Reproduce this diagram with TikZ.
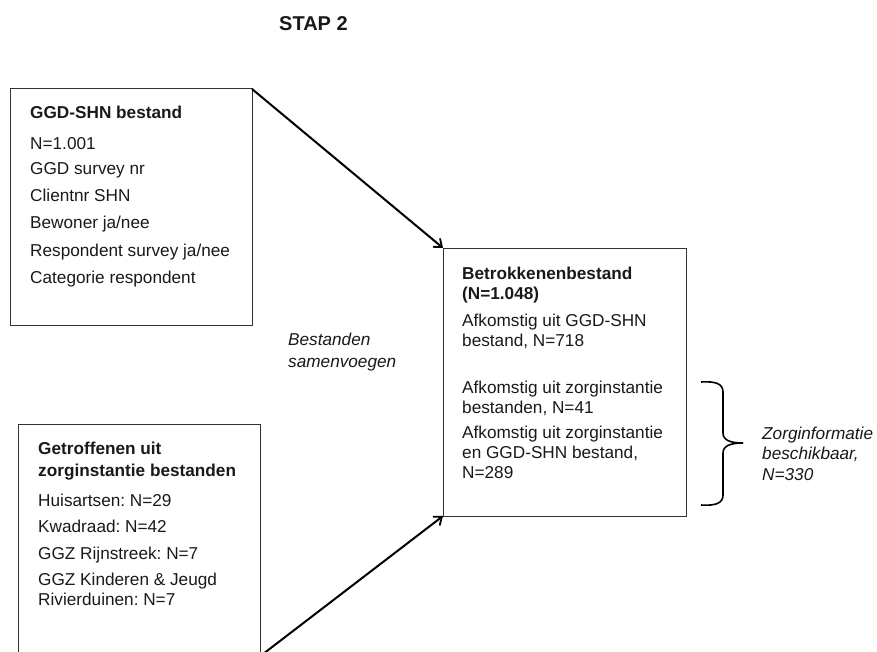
\documentclass[tikz,border=0pt]{standalone}
\usepackage{fontspec}
\setmainfont{Liberation Sans}
\frenchspacing
\usetikzlibrary{arrows.meta}
\begin{document}
\begin{tikzpicture}[x=1pt,y=-1pt,
  boxframe/.style={draw=black!80,line width=1pt},
  txt/.style={anchor=base west,inner sep=0pt,font=\fontsize{17.2}{20}\selectfont\frenchspacing,text=black!90},
  ttl/.style={txt,font=\fontsize{17.2}{20}\selectfont\bfseries\frenchspacing},
  itx/.style={txt,font=\fontsize{17.2}{20}\selectfont\itshape\frenchspacing},
  conn/.style={line width=2pt,-{Straight Barb[length=7pt,width=11pt,line width=1.8pt]}}]
\useasboundingbox (0,0) rectangle (877,652);
\clip (0,0) rectangle (877,652);
% title
\node[ttl,font=\fontsize{20}{24}\selectfont\bfseries] (stap) at (279,31) {STAP 2};
% box 1
\draw[boxframe] (10,89) rectangle (252,325);
\coordinate (b1ne) at (252,89);
\node[ttl] (t1) at (30,119) {GGD-SHN bestand};
\node[txt] (l11) at (30,150) {N=1.001};
\node[txt] (l12) at (30,175) {GGD survey nr};
\node[txt] (l13) at (30,202) {Clientnr SHN};
\node[txt] (l14) at (30,229) {Bewoner ja/nee};
\node[txt] (l15) at (30,256) {Respondent survey ja/nee};
\node[txt] (l16) at (30,283) {Categorie respondent};
% box 2
\draw[boxframe] (18,424) rectangle (260,680);
\coordinate (b2se) at (263,654);
\node[ttl] (t2a) at (38,454) {Getroffenen uit};
\node[ttl] (t2b) at (38,476) {zorginstantie bestanden};
\node[txt] (l21) at (38,506) {Huisartsen: N=29};
\node[txt] (l22) at (38,532) {Kwadraad: N=42};
\node[txt] (l23) at (38,559) {GGZ Rijnstreek: N=7};
\node[txt] (l24) at (38,585) {GGZ Kinderen \& Jeugd};
\node[txt] (l25) at (38,605) {Rivierduinen: N=7};
% box 3
\draw[boxframe] (443,248) rectangle (686,516);
\coordinate (b3nw) at (443,248);
\coordinate (b3sw) at (443,516);
\node[ttl] (t3a) at (462,279) {Betrokkenenbestand};
\node[ttl] (t3b) at (462,299) {(N=1.048)};
\node[txt] (l31) at (462,326) {Afkomstig uit GGD-SHN};
\node[txt] (l32) at (462,346) {bestand, N=718};
\node[txt] (l33) at (462,393) {Afkomstig uit zorginstantie};
\node[txt] (l34) at (462,413) {bestanden, N=41};
\node[txt] (l35) at (462,438) {Afkomstig uit zorginstantie};
\node[txt] (l36) at (462,458) {en GGD-SHN bestand,};
\node[txt] (l37) at (462,478) {N=289};
% connectors
\draw[conn] (b1ne) -- (b3nw);
\draw[conn] (b2se) -- (b3sw);
% middle label
\node[itx] (m1) at (288,345) {Bestanden};
\node[itx] (m2) at (288,367) {samenvoegen};
% brace
\coordinate (brt) at (701,382);
\coordinate (brb) at (701,505);
\coordinate (brm) at (743,443);
\draw[line width=1.6pt] (brt) .. controls (716,381) and (723,384) .. (723,392)
  -- (723,433) .. controls (723,440) and (730,443) .. (brm);
\draw[line width=1.6pt] (brb) .. controls (716,506) and (723,503) .. (723,495)
  -- (723,453) .. controls (723,446) and (730,443) .. (brm);
\node[itx] (z1) at (762,439) {Zorginformatie};
\node[itx] (z2) at (762,459) {beschikbaar,};
\node[itx] (z3) at (762,480) {N=330};
\end{tikzpicture}
\end{document}
